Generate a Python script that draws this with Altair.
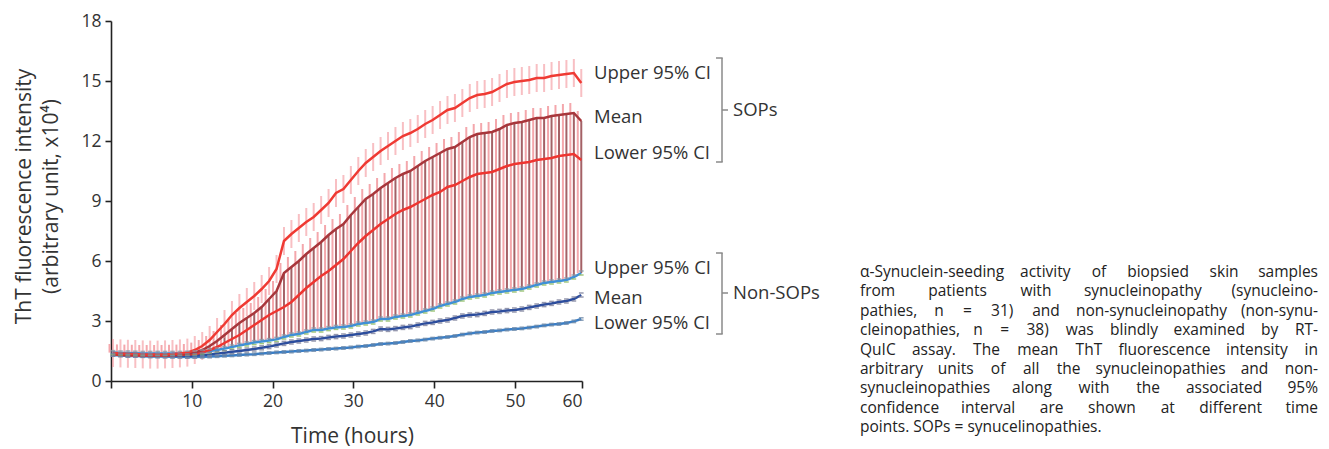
import altair as alt
import pandas as pd

times = [0.25, 1.17, 2.09, 3.01, 3.93, 4.85, 5.77, 6.69, 7.61, 8.53, 9.45, 10.37, 11.29, 12.21,
         13.13, 14.05, 14.97, 15.89, 16.81, 17.73, 18.65, 19.57, 20.49, 21.41, 22.33, 23.25,
         24.17, 25.09, 26.01, 26.93, 27.85, 28.77, 29.69, 30.61, 31.53, 32.45, 33.37, 34.29,
         35.21, 36.13, 37.05, 37.97, 38.89, 39.81, 40.73, 41.65, 42.57, 43.49, 44.41, 45.33,
         46.25, 47.17, 48.09, 49.01, 49.93, 50.85, 51.77, 52.69, 53.61, 54.53, 55.45, 56.37,
         57.29, 58.21]

sop_upper = [1.40, 1.38, 1.36, 1.35, 1.33, 1.32, 1.32, 1.33, 1.35, 1.38,
             1.42, 1.55, 1.75, 2.05, 2.45, 2.85, 3.3, 3.65, 3.95, 4.25,
             4.6, 5.0, 5.6, 7.0, 7.35, 7.65, 7.95, 8.2, 8.55, 8.9,
             9.4, 9.6, 10.05, 10.5, 10.9, 11.2, 11.5, 11.75, 12.0, 12.25,
             12.4, 12.6, 12.85, 13.05, 13.3, 13.55, 13.65, 13.9, 14.15, 14.3,
             14.35, 14.45, 14.65, 14.85, 14.95, 15.0, 15.05, 15.15, 15.15, 15.25,
             15.3, 15.35, 15.4, 14.9]

sop_mean = [1.35, 1.33, 1.32, 1.31, 1.30, 1.30, 1.30, 1.30, 1.31, 1.32,
            1.35, 1.42, 1.55, 1.75, 2.0, 2.3, 2.6, 2.9, 3.15, 3.4,
            3.7, 4.1, 4.5, 5.4, 5.7, 6.0, 6.35, 6.65, 6.95, 7.3,
            7.6, 7.85, 8.3, 8.7, 9.1, 9.35, 9.65, 9.9, 10.15, 10.35,
            10.5, 10.75, 11.0, 11.2, 11.4, 11.6, 11.7, 11.95, 12.2, 12.35,
            12.4, 12.45, 12.6, 12.8, 12.9, 12.95, 13.05, 13.15, 13.15, 13.25,
            13.3, 13.35, 13.4, 13.0]

sop_lower = [1.32, 1.30, 1.29, 1.28, 1.28, 1.28, 1.28, 1.28, 1.29, 1.30,
             1.32, 1.35, 1.42, 1.55, 1.7, 1.9, 2.1, 2.3, 2.55, 2.8,
             3.05, 3.3, 3.5, 3.7, 3.95, 4.3, 4.65, 4.95, 5.25, 5.5,
             5.8, 6.1, 6.5, 6.9, 7.25, 7.55, 7.85, 8.1, 8.35, 8.55,
             8.7, 8.9, 9.1, 9.3, 9.45, 9.7, 9.8, 10.0, 10.2, 10.35,
             10.4, 10.45, 10.6, 10.75, 10.85, 10.9, 10.95, 11.05, 11.1, 11.15,
             11.25, 11.3, 11.35, 11.05]

non_upper = [1.42, 1.40, 1.40, 1.39, 1.38, 1.38, 1.38, 1.38, 1.38, 1.38,
             1.39, 1.40, 1.45, 1.5, 1.55, 1.62, 1.7, 1.78, 1.85, 1.92,
             1.97, 2.02, 2.08, 2.2, 2.3, 2.35, 2.45, 2.55, 2.55, 2.62,
             2.68, 2.7, 2.75, 2.85, 2.9, 2.95, 3.1, 3.1, 3.2, 3.25,
             3.3, 3.4, 3.5, 3.6, 3.75, 3.85, 3.95, 4.1, 4.2, 4.25,
             4.3, 4.4, 4.45, 4.5, 4.55, 4.6, 4.7, 4.8, 4.9, 4.95,
             5.0, 5.05, 5.2, 5.4]

non_mean = [1.35, 1.32, 1.30, 1.30, 1.29, 1.28, 1.28, 1.27, 1.27, 1.26,
            1.26, 1.27, 1.30, 1.33, 1.37, 1.41, 1.46, 1.5, 1.55, 1.6,
            1.66, 1.72, 1.8, 1.88, 1.95, 2.0, 2.05, 2.1, 2.12, 2.18,
            2.22, 2.25, 2.3, 2.35, 2.4, 2.48, 2.6, 2.58, 2.62, 2.68,
            2.72, 2.8, 2.88, 2.93, 3.0, 3.05, 3.15, 3.25, 3.3, 3.32,
            3.38, 3.45, 3.48, 3.52, 3.55, 3.6, 3.68, 3.75, 3.82, 3.88,
            3.95, 4.0, 4.1, 4.3]

non_lower = [1.30, 1.28, 1.25, 1.25, 1.24, 1.23, 1.22, 1.22, 1.21, 1.21,
             1.20, 1.20, 1.21, 1.22, 1.24, 1.26, 1.28, 1.30, 1.32, 1.34,
             1.37, 1.40, 1.43, 1.45, 1.47, 1.50, 1.52, 1.55, 1.57, 1.60,
             1.62, 1.65, 1.68, 1.72, 1.75, 1.80, 1.85, 1.87, 1.90, 1.95,
             2.00, 2.03, 2.07, 2.12, 2.16, 2.20, 2.25, 2.32, 2.38, 2.42,
             2.45, 2.50, 2.53, 2.57, 2.60, 2.63, 2.67, 2.72, 2.78, 2.82,
             2.85, 2.90, 2.98, 3.10]

# error bar half widths (x10^4)
sop_upper_err = 0.7
sop_mean_err = 0.5
non_err = 0.1

x_ticks = [0, 10, 20, 30, 40, 50, 58.3]
y_ticks = [0, 3, 6, 9, 12, 15, 18]

caption = [
    "α-Synuclein-seeding activity of biopsied skin samples",
    "from patients with synucleinopathy (synucleino-",
    "pathies, n = 31) and non-synucleinopathy (non-synu-",
    "cleinopathies, n = 38) was blindly examined by RT-",
    "QuIC assay. The mean ThT fluorescence intensity in",
    "arbitrary units of all the synucleinopathies and non-",
    "synucleinopathies along with the associated 95%",
    "confidence interval are shown at different time",
    "points. SOPs = synucelinopathies.",
]

sop_labels = ["Upper 95% CI", "Mean", "Lower 95% CI"]
sop_label_y = [15.4, 13.2, 11.4]
non_labels = ["Upper 95% CI", "Mean", "Lower 95% CI"]
non_label_y = [5.65, 4.15, 2.9]

df = pd.DataFrame({
    "t": times, "su": sop_upper, "sm": sop_mean, "sl": sop_lower,
    "nu": non_upper, "nm": non_mean, "nl": non_lower,
})
df["su_lo"] = df["su"] - sop_upper_err
df["su_hi"] = df["su"] + sop_upper_err
df["sm_hi"] = df["sm"] + sop_mean_err
df["nu_lo"] = df["nu"] - non_err
df["nu_hi"] = df["nu"] + non_err
df["nm_lo"] = df["nm"] - non_err
df["nm_hi"] = df["nm"] + non_err
df["nl_lo"] = df["nl"] - non_err * 0.6
df["nl_hi"] = df["nl"] + non_err * 0.6

FONT = "Open Sans"

xscale = alt.Scale(domain=[0, 58.3], nice=False, zero=False)
yscale = alt.Scale(domain=[0, 18], nice=False)

xaxis = alt.Axis(values=x_ticks, title="Time (hours)",
                 labelExpr="datum.value == 0 ? '' : (datum.value > 55 ? '60' : datum.label)",
                 grid=False, tickSize=7, labelPadding=4, titleX=241, titleY=55,
                 titleBaseline="middle", titleAnchor="middle")
yaxis = alt.Axis(values=y_ticks, title=["ThT fluorescence intensity", "(arbitrary unit, x10⁴)"],
                 grid=False, tickSize=6, labelPadding=4, titleX=-87, titleY=175,
                 titleBaseline="middle", titleAngle=-90, titleLineHeight=27)


def X():
    return alt.X("t:Q", scale=xscale, axis=xaxis)


def Y(field):
    return alt.Y(f"{field}:Q", scale=yscale, axis=yaxis)


base = alt.Chart(df)

pink_long = base.mark_rule(color="#f08a90", opacity=0.75, strokeWidth=2, xOffset=-3.5).encode(
    x=X(), y=Y("nu"), y2="sm_hi")
dark_long = base.mark_rule(color="#94454b", opacity=0.85, strokeWidth=2).encode(
    x=X(), y=Y("nu"), y2="sm")
pink_upper = base.mark_rule(color="#f4949b", opacity=0.6, strokeWidth=2).encode(
    x=X(), y=Y("su_lo"), y2="su_hi")


def line(field, color, width):
    return base.mark_line(color=color, strokeWidth=width).encode(x=X(), y=Y(field))


def dashes(field, color):
    return base.mark_point(shape="stroke", size=22, color=color, strokeWidth=1.5,
                           opacity=0.8).encode(x=X(), y=Y(field))


lines = [
    line("nl", "#3a7ec6", 2.5),
    line("nm", "#2c4d9d", 2.5),
    line("nu", "#3f90d6", 2.5),
    line("sl", "#ee3530", 2.5),
    line("sm", "#a8363b", 2.5),
    line("su", "#ef3a33", 2.5),
]
marks_non = [
    dashes("nu_lo", "#8dbb62"),
    dashes("nu_hi", "#8a9aa8"),
    dashes("nm_lo", "#7c7f9a"),
    dashes("nm_hi", "#7c7f9a"),
    dashes("nl_lo", "#6f8aa8"),
    dashes("nl_hi", "#6f8aa8"),
]

ANN = 18.5
lab_df = pd.DataFrame({"label": sop_labels + non_labels, "y": sop_label_y + non_label_y})
labels = alt.Chart(lab_df).mark_text(align="left", baseline="middle", font=FONT,
                                     fontSize=ANN, color="#333333").encode(
    x=alt.value(483), y=Y("y"), text="label:N")

br_df = pd.DataFrame({
    "group": ["SOPs", "Non-SOPs"],
    "top": [16.15, 6.4],
    "bot": [10.95, 2.35],
    "mid": [13.55, 4.4],
})
br_col = "#8a8a8a"
br_vert = alt.Chart(br_df).mark_rule(color=br_col, strokeWidth=1.5).encode(
    x=alt.value(611), y=Y("top"), y2="bot:Q")
br_top = alt.Chart(br_df).mark_rule(color=br_col, strokeWidth=1.5).encode(
    x=alt.value(605), x2=alt.value(611.7), y=Y("top"))
br_bot = alt.Chart(br_df).mark_rule(color=br_col, strokeWidth=1.5).encode(
    x=alt.value(605), x2=alt.value(611.7), y=Y("bot"))
br_mid = alt.Chart(br_df).mark_rule(color=br_col, strokeWidth=1.5).encode(
    x=alt.value(611), x2=alt.value(617), y=Y("mid"))
br_text = alt.Chart(br_df).mark_text(align="left", baseline="middle", font=FONT,
                                     fontSize=ANN, color="#333333").encode(
    x=alt.value(622), y=Y("mid"), text="group:N")

# ---- justified caption: approximate Open Sans advance widths (units / 2048) ----
ADV = {" ": 532, "-": 659, ".": 545, ",": 500, "(": 614, ")": 614, "=": 1171, "%": 1696,
       "α": 1255}
for ch in "0123456789":
    ADV[ch] = 1171
ADV.update({"a": 1139, "b": 1255, "c": 975, "d": 1255, "e": 1149, "f": 694, "g": 1122,
            "h": 1257, "i": 518, "j": 518, "k": 1075, "l": 518, "m": 1905, "n": 1257,
            "o": 1237, "p": 1255, "q": 1255, "r": 836, "s": 977, "t": 723, "u": 1257,
            "v": 1026, "w": 1593, "x": 1073, "y": 1028, "z": 977,
            "C": 1292, "I": 571, "O": 1595, "P": 1233, "Q": 1595, "R": 1266, "S": 1124,
            "T": 1133, "U": 1491})
CAP_FS = 15.5
CAP_LEFT, CAP_RIGHT = 749, 1207
CAP_TOP, CAP_LH = 251, 19.4


def text_width(s):
    return sum(ADV.get(c, 1150) for c in s) / 2048 * CAP_FS * 0.96


rows = []
for li, ln in enumerate(caption):
    words = ln.split(" ")
    yy = CAP_TOP + li * CAP_LH
    if li == len(caption) - 1:
        rows.append({"w": ln, "px": CAP_LEFT, "py": yy, "al": "left"})
        continue
    ws = [text_width(w) for w in words]
    gap = (CAP_RIGHT - CAP_LEFT - sum(ws)) / (len(words) - 1)
    cur = CAP_LEFT
    for k, (w, wd) in enumerate(zip(words, ws)):
        if k == 0:
            rows.append({"w": w, "px": CAP_LEFT, "py": yy, "al": "left"})
        elif k == len(words) - 1:
            rows.append({"w": w, "px": CAP_RIGHT, "py": yy, "al": "right"})
        else:
            rows.append({"w": w, "px": cur + wd / 2, "py": yy, "al": "center"})
        cur += wd + gap
cap_df = pd.DataFrame(rows)


def cap_layer(al):
    return alt.Chart(cap_df).transform_filter(alt.datum.al == al).mark_text(
        align=al, baseline="middle", font=FONT, fontSize=CAP_FS, color="#222222").encode(
        x=alt.X("px:Q", scale=None), y=alt.Y("py:Q", scale=None), text="w:N")


caps = [cap_layer("left"), cap_layer("center"), cap_layer("right")]

chart = alt.layer(
    pink_long, dark_long, pink_upper, *lines, *marks_non,
    labels, br_vert, br_top, br_bot, br_mid, br_text, *caps
).properties(
    width=471, height=360,
    autosize=alt.AutoSizeParams(type="none"),
    padding={"left": 103, "top": 13, "right": 739, "bottom": 68},
).configure_view(stroke=None).configure_axis(
    labelFont=FONT, labelFontSize=17.5, labelColor="#333333",
    titleFont=FONT, titleFontSize=21, titleFontWeight="normal", titleColor="#333333",
    domainColor="#222222", domainWidth=1.6, tickColor="#222222", tickWidth=1.6,
)

chart.save("out.html", embed_options={"renderer": "svg", "actions": False})
